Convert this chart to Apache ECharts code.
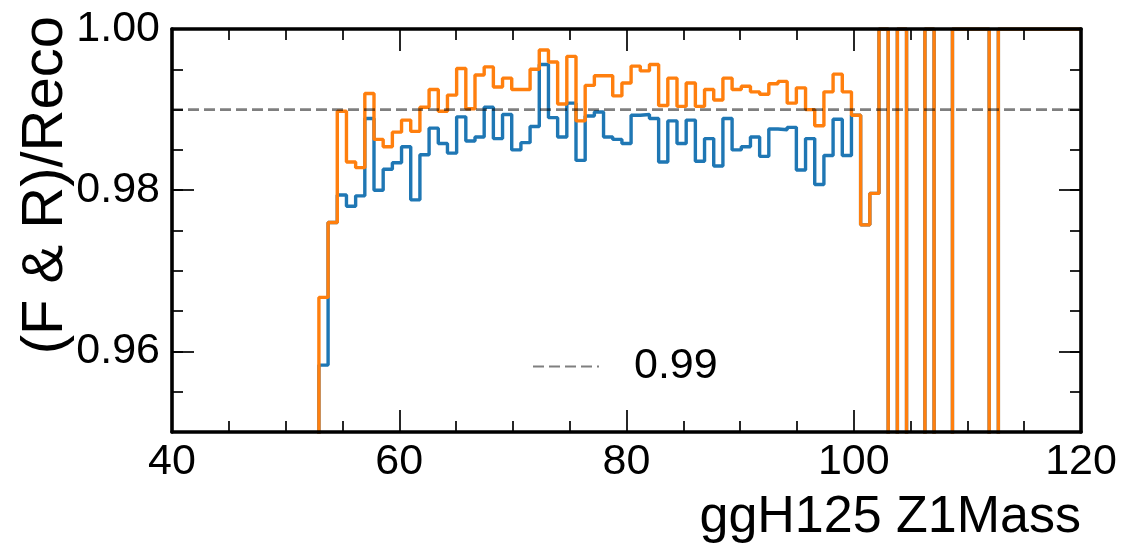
<!DOCTYPE html>
<html><head><meta charset="utf-8">
<script src="https://cdn.jsdelivr.net/npm/echarts@6/dist/echarts.min.js"></script>
<style>html,body{margin:0;padding:0;background:#fff}#c{width:1122px;height:545px}</style>
</head><body><div id="c"></div>
<script>
// ---- data ----
const xMin = 40, xMax = 120, nBins = 99;            // histogram binning (linspace 40..120, 100 edges)
const xTickStep = 20;
const yRange = [0.95, 1.00];
const yTickLabels = [0.96, 0.98, 1.00];
const refValue = 0.99;
const refLabel = '0.99';
const xTitle = 'ggH125 Z1Mass';
const yTitle = '(F & R)/Reco';

const orangeRatio = [
  0,0,0,0,0,0,0,0,0,0,0,0,0,0,0,0,
  0.9667,0.9760,0.9898,0.9835,0.9828,0.9920,0.9863,0.9854,0.9872,0.9887,
  0.9873,0.9903,0.9925,0.9898,0.9918,0.9951,0.9901,0.9943,0.9953,0.9928,
  0.9939,0.9925,0.9925,0.9950,0.9974,0.9959,0.9907,0.9966,0.9886,0.9930,
  0.9942,0.9942,0.9917,0.9933,0.9954,0.9948,0.9956,0.9905,0.9939,0.9904,
  0.9933,0.9904,0.9925,0.9912,0.9939,0.9925,0.9929,0.9922,0.9919,0.9932,
  0.9935,0.9908,0.9927,0.9900,0.9880,0.9922,0.9944,0.9922,0.9893,0.9757,
  0.9796,1,0,1,0,0,1,0,0,1,
  1,1,1,0,1,1,1,1,1,1,1,1,1
];
const blueRatio = [
  0,0,0,0,0,0,0,0,0,0,0,0,0,0,0,0,
  0.9583,0.9760,0.9794,0.9780,0.9793,0.9889,0.9800,0.9826,0.9834,0.9854,
  0.9788,0.9844,0.9877,0.9858,0.9846,0.9891,0.9861,0.9866,0.9903,0.9864,
  0.9894,0.9850,0.9859,0.9879,0.9956,0.9890,0.9866,0.9908,0.9837,0.9892,
  0.9897,0.9866,0.9863,0.9858,0.9893,0.9894,0.9889,0.9835,0.9886,0.9858,
  0.9887,0.9836,0.9864,0.9830,0.9889,0.9850,0.9854,0.9866,0.9842,0.9876,
  0.9875,0.9878,0.9825,0.9864,0.9807,0.9843,0.9888,0.9843,0.9893,0.9757,
  0.9796,1,0,1,0,0,1,0,0,1,
  1,1,1,0,1,1,1,1,1,1,1,1,1
];

// ---- build step data (bin edges) ----
const binEdges = Array.from({length: nBins + 1}, (_, i) => xMin + (xMax - xMin) * i / nBins);
function stairs(vals) {
  const d = vals.map((v, i) => [binEdges[i], v]);
  d.push([binEdges[nBins], vals[nBins - 1]]);
  return d;
}

const FONT = '"Liberation Sans", Arial, Helvetica, sans-serif';
const BLACK = '#000';
const tickStyle = {color: BLACK, width: 1.7};
const frame = {show: true, onZero: false, lineStyle: {color: BLACK, width: 3.6}};

function xAx(pos, labels) {
  return {
    type: 'value', min: xMin, max: xMax, interval: xTickStep, position: pos, z: 10,
    axisLine: frame,
    axisTick: {show: true, inside: true, length: 22, lineStyle: tickStyle},
    minorTick: {show: true, splitNumber: 4, length: 11, lineStyle: tickStyle},
    axisLabel: {show: labels, fontSize: 43, margin: 9, color: BLACK, fontFamily: FONT,
                showMinLabel: true, showMaxLabel: true},
    splitLine: {show: false}, minorSplitLine: {show: false}
  };
}
function yMinor(pos, labels) {
  return {
    type: 'value', min: yRange[0], max: yRange[1], interval: 0.005, position: pos, z: 10,
    axisLine: frame,
    axisTick: {show: true, inside: true, length: 11, lineStyle: tickStyle},
    axisLabel: {show: labels, customValues: yTickLabels, formatter: v => v.toFixed(2),
                fontSize: 43, margin: 12, color: BLACK, fontFamily: FONT},
    splitLine: {show: false}
  };
}
function yMajor(pos) {
  return {
    type: 'value', min: yRange[0], max: yRange[1], position: pos, z: 10,
    axisLine: {show: false},
    axisTick: {show: true, inside: true, length: 22, customValues: yTickLabels, lineStyle: tickStyle},
    axisLabel: {show: false},
    splitLine: {show: false}
  };
}

const chart = echarts.init(document.getElementById('c'), null, {renderer: 'canvas'});
chart.setOption({
  animation: false,
  backgroundColor: '#fff',
  grid: {left: 172, top: 29, width: 909, height: 403, containLabel: false},
  xAxis: [xAx('bottom', true), xAx('top', false)],
  yAxis: [yMinor('left', true), yMajor('left'), yMinor('right', false), yMajor('right')],
  legend: {
    data: [{name: refLabel}],
    left: 527, top: 340,
    itemWidth: 66, itemHeight: 20,
    itemStyle: {opacity: 0},
    textStyle: {fontSize: 43, color: BLACK, fontFamily: FONT, padding: [0, 0, 0, 30]},
    selectedMode: false
  },
  series: [
    {name: 'blue', type: 'line', step: 'end', data: stairs(blueRatio), xAxisIndex: 0, yAxisIndex: 0,
     symbol: 'none', showSymbol: false, z: 2, clip: true,
     lineStyle: {color: '#1f77b4', width: 3.4}, itemStyle: {color: '#1f77b4'}},
    {name: 'orange', type: 'line', step: 'end', data: stairs(orangeRatio), xAxisIndex: 0, yAxisIndex: 0,
     symbol: 'none', showSymbol: false, z: 3, clip: true,
     lineStyle: {color: '#ff7f0e', width: 3.4}, itemStyle: {color: '#ff7f0e'}},
    {name: refLabel, type: 'line', data: [[xMin, refValue], [xMax, refValue]], xAxisIndex: 0, yAxisIndex: 0,
     symbol: 'none', showSymbol: false, z: 4,
     lineStyle: {color: 'rgba(0,0,0,0.5)', width: 2.6, type: [11, 5]}, itemStyle: {color: 'rgba(0,0,0,0.5)'}}
  ],
  graphic: [
    {type: 'text', x: 46, y: 16, rotation: Math.PI / 2, z: 20,
     style: {text: yTitle, fontSize: 58, fontFamily: FONT, fill: BLACK, textAlign: 'right', textVerticalAlign: 'middle'}},
    {type: 'text', x: 1081, y: 518, z: 20,
     style: {text: xTitle, fontSize: 52, fontFamily: FONT, fill: BLACK, textAlign: 'right', textVerticalAlign: 'middle'}}
  ]
});
</script></body></html>
